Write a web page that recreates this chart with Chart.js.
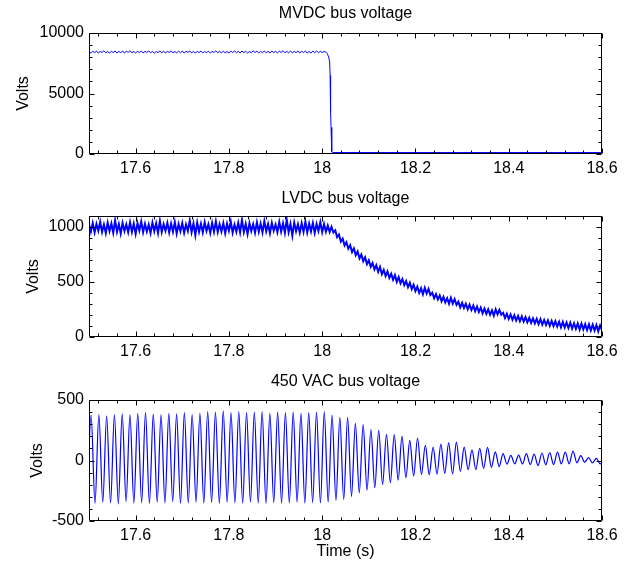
<!DOCTYPE html>
<html>
<head>
<meta charset="utf-8">
<script src="https://cdn.jsdelivr.net/npm/chart.js@4.4.1/dist/chart.umd.min.js"></script>
<style>
  body { margin: 0; background: #fff; }
  #wrap { position: relative; width: 628px; height: 563px; }
  canvas { position: absolute; left: 0; }
</style>
</head>
<body>
<div id="wrap">
  <canvas id="mvdc" width="628" height="180" style="top:0px"></canvas>
  <canvas id="lvdc" width="628" height="182" style="top:180px"></canvas>
  <canvas id="vac" width="628" height="201" style="top:362px"></canvas>
</div>
<script>
// axis ranges and tick labels
const T_MIN = 17.5;
const T_MAX = 18.6;
const X_TICKS = [17.6, 17.8, 18.0, 18.2, 18.4, 18.6];
const X_MINOR_STEP = 0.04;
const MVDC_TICKS = [0, 5000, 10000];
const LVDC_TICKS = [0, 500, 1000];
const VAC_TICKS = [-500, 0, 500];

// MVDC bus: ripple sampled every 4 ms from 17.5 s, then the collapse
const MVDC_STEP = 0.004;
const MVDC_RIPPLE = [
  8460, 8350, 8490, 8370, 8510, 8340, 8480, 8390, 8530, 8360, 8470, 8330, 8500, 8380, 8520, 8350,
  8480, 8370, 8510, 8340, 8490, 8400, 8540, 8360, 8470, 8340, 8500, 8370, 8510, 8350, 8480, 8390,
  8520, 8360, 8490, 8330, 8470, 8380, 8510, 8370, 8500, 8340, 8480, 8390, 8530, 8360, 8470, 8350,
  8500, 8370, 8510, 8340, 8490, 8390, 8520, 8350, 8480, 8330, 8490, 8380, 8510, 8360, 8470, 8370,
  8500, 8340, 8480, 8390, 8530, 8370, 8490, 8350, 8510, 8360, 8470, 8340, 8500, 8390, 8520, 8370,
  8480, 8350, 8510, 8380, 8490, 8340, 8470, 8370, 8530, 8390, 8500, 8350, 8480, 8370, 8520, 8360,
  8490, 8340, 8510, 8380, 8480, 8350, 8500, 8390, 8540, 8370, 8490, 8340, 8510, 8360, 8470, 8380,
  8520, 8350, 8490, 8390, 8510, 8360, 8480, 8340, 8500, 8380, 8520, 8370, 8480, 8390, 8470, 8420,
];
const MVDC_DROP_T = [18.011, 18.014, 18.016, 18.017, 18.018, 18.019, 18.020, 18.021, 18.022, 18.3, 18.6];
const MVDC_DROP_V = [8300, 8000, 7600, 6500, 3500, 2200, 700, 200, 120, 120, 120];

// LVDC bus: sampled every 4 ms from 17.5 s to 18.6 s
const LVDC_STEP = 0.004;
const LVDC_V = [
  1024, 958, 1035, 951, 1028, 966, 1046, 954, 1022, 945,
  1039, 962, 1031, 948, 1060, 957, 1026, 941, 1037, 964,
  1023, 952, 1042, 956, 1030, 937, 1034, 968, 1050, 953,
  1028, 959, 1021, 946, 1040, 962, 1033, 944, 1056, 955,
  1025, 966, 1038, 950, 1031, 958, 1044, 942, 1027, 961,
  1035, 947, 1023, 964, 1059, 953, 1032, 925, 1040, 957,
  1029, 951, 1043, 965, 1024, 946, 1037, 956, 1051, 954,
  1026, 960, 1034, 943, 1030, 967, 1048, 949, 1022, 958,
  1039, 952, 1064, 955, 1028, 936, 1035, 963, 1025, 948,
  1042, 957, 1031, 951, 1053, 961, 1027, 944, 1038, 966,
  1023, 953, 1046, 958, 1033, 947, 1066, 954, 1029, 922,
  1040, 962, 1025, 949, 1035, 956, 1049, 951, 1031, 959,
  1037, 946, 1028, 964, 1044, 953, 1026, 958, 1014, 954,
  1002, 950, 970, 908, 932, 868, 894, 833, 862, 803,
  835, 773, 805, 744, 777, 714, 749, 690, 725, 662,
  697, 639, 673, 614, 652, 592, 637, 572, 611, 555,
  595, 538, 575, 520, 562, 502, 545, 488, 527, 472,
  509, 454, 493, 435, 475, 418, 457, 402, 443, 388,
  447, 397, 437, 382, 402, 352, 390, 342, 377, 324,
  365, 314, 353, 302, 357, 304, 345, 292, 321, 270,
  311, 264, 303, 252, 294, 245, 285, 235, 277, 227,
  267, 216, 259, 210, 252, 202, 243, 194, 252, 207,
  247, 202, 219, 172, 212, 164, 205, 157, 197, 150,
  192, 144, 187, 140, 181, 134, 175, 128, 169, 123,
  165, 118, 162, 112, 155, 109, 152, 102, 147, 99,
  143, 94, 139, 88, 137, 86, 132, 82, 130, 77,
  125, 74, 123, 67, 122, 70, 117, 64, 115, 60,
  112, 59, 109, 52, 105, 62,
];

// 450 VAC bus: 60 Hz, peak and trough values cycle by cycle
const VAC_PERIOD = 1 / 60;
const VAC_TROUGH_T0 = 17.4962;
const VAC_PEAK_T0 = 17.5045;
const VAC_TROUGHS = [
  -330,
  -355, -345, -350, -358, -340,
  -352, -348, -355, -345, -350,
  -340, -355, -350, -345, -352,
  -348, -355, -345, -350, -352,
  -345, -350, -355, -348, -352,
  -350, -345, -352, -348, -350,
  -345, -330, -322, -296, -268,
  -245, -225, -198, -183, -162,
  -142, -128, -114, -118, -112,
  -106, -110, -90, -76, -76,
  -66, -56, -50, -30, -28,
  -28, -33, -42, -36, -33,
  -28, -28, -19, -14, -19,
  -28,
];
const VAC_PEAKS = [
  375, 380, 370, 380, 385,
  380, 390, 395, 385, 380,
  390, 385, 395, 380, 390,
  405, 400, 410, 395, 405,
  395, 400, 405, 390, 400,
  395, 400, 390, 395, 400,
  405, 375, 356, 356, 306,
  297, 256, 250, 217, 214,
  200, 167, 186, 125, 111,
  136, 146, 152, 110, 88,
  101, 108, 72, 56, 42,
  45, 56, 53, 62, 66,
  69, 70, 78, 40, 24,
  17, 15,
];

const FONT_FAMILY = "'Liberation Sans', Arial, sans-serif";
const FONT = { family: FONT_FAMILY, size: 16, weight: "normal" };
const BLUE = "#0000ff";

function stepPoints(t0, step, values) {
  return values.map((v, i) => ({ x: t0 + i * step, y: v }));
}

function pairPoints(ts, vs) {
  return ts.map((t, i) => ({ x: t, y: vs[i] }));
}

function vacPoints() {
  const pts = [];
  for (let i = 0; i < VAC_PEAKS.length; i++) {
    pts.push({ x: VAC_TROUGH_T0 + i * VAC_PERIOD, y: VAC_TROUGHS[i] });
    pts.push({ x: VAC_PEAK_T0 + i * VAC_PERIOD, y: VAC_PEAKS[i] });
  }
  return pts;
}

function fmtTime(v) {
  return String(Number(v.toFixed(1)));
}

// box around the plot, inward ticks on all four sides, title centred over the plot
const boxTicks = {
  id: "boxTicks",
  afterDatasetsDraw(chart, args, opts) {
    const { ctx, chartArea: a, scales: { x, y } } = chart;
    const L = Math.round(a.left) + 0.5;
    const R = Math.round(a.right) - 0.5;
    const T = Math.round(a.top) + 0.5;
    const B = Math.round(a.bottom) - 0.5;
    ctx.save();
    ctx.strokeStyle = "#000";
    ctx.lineWidth = 1;
    ctx.beginPath();
    ctx.rect(L, T, R - L, B - T);
    const nx = Math.round((T_MAX - T_MIN) / X_MINOR_STEP);
    for (let i = 0; i <= nx; i++) {
      const v = 17.52 + i * X_MINOR_STEP;
      if (v > T_MAX + 1e-9) break;
      const major = X_TICKS.some((m) => Math.abs(m - v) < 1e-6);
      const len = major ? 5 : 3;
      const px = Math.round(x.getPixelForValue(v)) + 0.5;
      ctx.moveTo(px, B); ctx.lineTo(px, B - len);
      ctx.moveTo(px, T); ctx.lineTo(px, T + len);
    }
    for (let v = opts.min; v <= opts.max + 1e-9; v += opts.step) {
      const major = opts.major.includes(v);
      const len = major ? 5 : 3;
      const py = Math.round(y.getPixelForValue(v)) + 0.5;
      ctx.moveTo(L, py); ctx.lineTo(L + len, py);
      ctx.moveTo(R, py); ctx.lineTo(R - len, py);
    }
    ctx.stroke();

    ctx.fillStyle = "#000";
    ctx.font = `16px ${FONT_FAMILY}`;
    ctx.textAlign = "center";
    ctx.textBaseline = "middle";
    ctx.fillText(opts.title, (a.left + a.right) / 2, opts.titleY);
    ctx.restore();
  },
};

function makeChart(id, cfg) {
  const xScale = {
    type: "linear",
    min: T_MIN,
    max: T_MAX,
    afterBuildTicks: (s) => { s.ticks = X_TICKS.map((v) => ({ value: v })); },
    afterFit: (s) => { s.height = cfg.xHeight; },
    grid: { display: false, drawTicks: false },
    border: { display: false },
    ticks: {
      color: "#000", font: FONT, padding: 5, maxRotation: 0, autoSkip: false,
      callback: (v) => fmtTime(v),
    },
    title: cfg.xTitle
      ? { display: true, text: cfg.xTitle, color: "#000", font: FONT, padding: { top: 0, bottom: 1.4 } }
      : { display: false },
  };
  const yScale = {
    min: cfg.yMin,
    max: cfg.yMax,
    afterBuildTicks: (s) => { s.ticks = cfg.yTicks.map((v) => ({ value: v })); },
    afterFit: (s) => { s.width = 89; },
    grid: { display: false, drawTicks: false },
    border: { display: false },
    ticks: { color: "#000", font: FONT, padding: 5, callback: (v) => String(v) },
    title: { display: true, text: "Volts", color: "#000", font: FONT, padding: { top: cfg.yTitlePad, bottom: 0 } },
  };
  return new Chart(document.getElementById(id), {
    type: "line",
    data: {
      datasets: [{
        data: cfg.points,
        borderColor: BLUE,
        borderWidth: cfg.lineWidth,
        pointRadius: 0,
        fill: false,
        tension: 0,
        cubicInterpolationMode: cfg.smooth ? "monotone" : "default",
        clip: 0,
      }],
    },
    options: {
      responsive: false,
      animation: false,
      devicePixelRatio: 1,
      events: [],
      layout: { padding: { left: 0, right: 26, top: cfg.plotTop, bottom: 0 } },
      scales: { x: xScale, y: yScale },
      plugins: {
        legend: { display: false },
        tooltip: { enabled: false },
        title: { display: false },
        boxTicks: {
          min: cfg.yMin, max: cfg.yMax, step: cfg.yStep, major: cfg.yTicks,
          title: cfg.title, titleY: cfg.titleY,
        },
      },
    },
    plugins: [boxTicks],
  });
}

makeChart("mvdc", {
  title: "MVDC bus voltage", titleY: 14, plotTop: 33,
  points: stepPoints(T_MIN, MVDC_STEP, MVDC_RIPPLE).concat(pairPoints(MVDC_DROP_T, MVDC_DROP_V)),
  yMin: 0, yMax: 10000, yStep: 1000, yTicks: MVDC_TICKS, yTitlePad: 14.4,
  xHeight: 26, lineWidth: 1, smooth: false,
});

makeChart("lvdc", {
  title: "LVDC bus voltage", titleY: 18.5, plotTop: 36,
  points: stepPoints(T_MIN, LVDC_STEP, LVDC_V),
  yMin: 0, yMax: 1100, yStep: 100, yTicks: LVDC_TICKS, yTitlePad: 24.4,
  xHeight: 25, lineWidth: 2, smooth: false,
});

makeChart("vac", {
  title: "450 VAC bus voltage", titleY: 20, plotTop: 38,
  points: vacPoints(),
  yMin: -500, yMax: 500, yStep: 100, yTicks: VAC_TICKS, yTitlePad: 28.4,
  xHeight: 42, xTitle: "Time (s)", lineWidth: 1.2, smooth: true,
});
</script>
</body>
</html>
